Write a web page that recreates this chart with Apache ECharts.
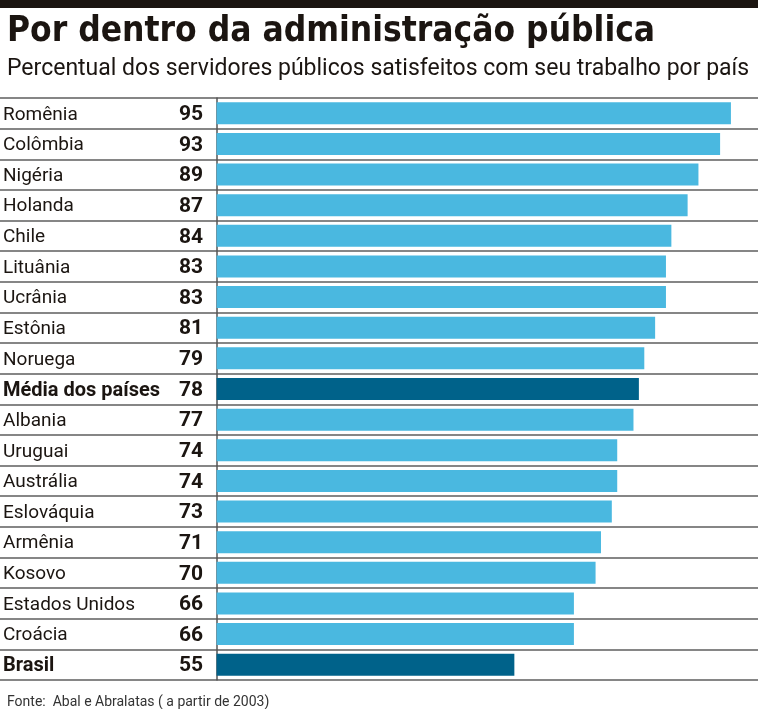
<html>
	<head>
		<meta http-equiv="content-type" content="text/html; charset=utf-8">
		<script src="https://cdn.jsdelivr.net/npm/echarts@6/dist/echarts.min.js"></script>
		<style>
			html, body { width: 100%; height: 100%; padding: 0; margin: 0; background: #ffffff; }
			#chart { width: 758px; height: 709px; }
		</style>
		<title>Por dentro da administração pública</title>
	</head>
	<body>
		<div id="chart"></div>
		<script type="text/javascript">
///////////////////////////////////////////////////////////////////////////////
// data
var countries = ["Romênia", "Colômbia", "Nigéria", "Holanda", "Chile", "Lituânia", "Ucrânia",
	"Estônia", "Noruega", "Média dos países", "Albania", "Uruguai", "Austrália", "Eslováquia",
	"Armênia", "Kosovo", "Estados Unidos", "Croácia", "Brasil"];
var satisfied = [95, 93, 89, 87, 84, 83, 83, 81, 79, 78, 77, 74, 74, 73, 71, 70, 66, 66, 55];
var highlight = ["Média dos países", "Brasil"];

var title_text = "Por dentro da administração pública";
var subtitle_text = "Percentual dos servidores públicos satisfeitos com seu trabalho por país";
var source_text = "Fonte:  Abal e Abralatas ( a partir de 2003)";

///////////////////////////////////////////////////////////////////////////////
var light = "#4ab8e0";
var dark = "#00628a";
var ink = "#1b1511";

var bar_data = [];
for (var i = 0; i < countries.length; i++) {
	var hl = highlight.indexOf(countries[i]) >= 0;
	bar_data.push({ value: satisfied[i], itemStyle: { color: hl ? dark : light } });
}

var chart = echarts.init(document.getElementById('chart'), null, { renderer: 'canvas' });

var option = {
	animation: false,
	title: [{
		text: title_text,
		left: 2, top: 9,
		textStyle: { fontFamily: 'DejaVu Sans Condensed', fontWeight: 'bold', fontSize: 35, color: ink }
	}, {
		text: subtitle_text,
		left: 2, top: 53,
		textStyle: { fontFamily: 'Roboto', fontWeight: 'normal', fontSize: 23, color: ink }
	}, {
		text: source_text,
		left: 2, top: 690,
		textStyle: { fontFamily: 'Roboto', fontWeight: 'normal', fontSize: 14, color: '#333333' }
	}],
	graphic: [{
		type: 'rect',
		shape: { x: 0, y: 0, width: 758, height: 8 },
		style: { fill: ink }
	}],
	// grid spans the whole width; the value axis starts at -40 so zero falls at x=217
	grid: { left: 0, right: 0, top: 98, bottom: 29, containLabel: false, outerBoundsMode: 'none' },
	xAxis: {
		type: 'value',
		min: -40,
		max: 100,
		show: false
	},
	yAxis: {
		type: 'category',
		inverse: true,
		data: countries,
		axisLine: { show: true, onZero: true, lineStyle: { color: '#555555', width: 1.5 } },
		axisTick: { show: false },
		splitLine: { show: true, lineStyle: { color: '#5e5e5e', width: 1.5 } },
		axisLabel: {
			inside: true,
			margin: 3,
			formatter: function (v, idx) {
				var hl = highlight.indexOf(v) >= 0;
				return (hl ? '{nameb|' : '{name|') + v + '}{val|' + satisfied[idx] + '}';
			},
			rich: {
				name: { fontFamily: 'Roboto', fontSize: 19, color: ink, width: 160, align: 'left', padding: [3, 0, 0, 0] },
				nameb: { fontFamily: 'Roboto', fontWeight: 'bold', fontSize: 20, color: ink, width: 160, align: 'left', padding: [3, 0, 0, 0] },
				val: { fontFamily: 'Roboto', fontWeight: 'bold', fontSize: 21, color: ink, width: 40, align: 'right', padding: [3, 0, 0, 0] }
			}
		}
	},
	series: [{
		type: 'bar',
		data: bar_data,
		barWidth: 22,
		silent: true
	}]
};

chart.setOption(option);
		</script>
	</body>
</html>
